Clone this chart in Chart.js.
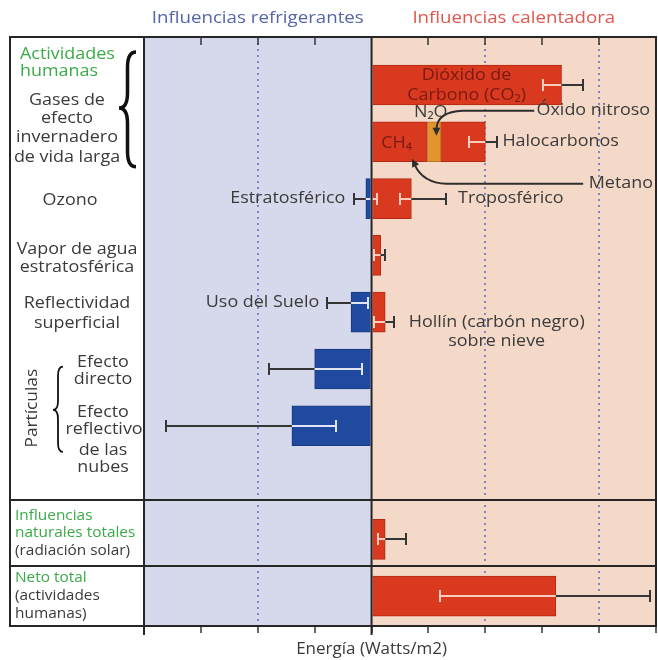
<!DOCTYPE html>
<html><head><meta charset="utf-8">
<script src="https://cdn.jsdelivr.net/npm/chart.js@4.4.0/dist/chart.umd.min.js"></script>
<style>html,body{margin:0;padding:0;background:#fff}#wrap{width:658px;height:660px}</style>
</head><body><div id="wrap"><canvas id="c" width="658" height="660"></canvas></div>
<script>
// ---------- DATA ----------
const categories = [
  'Dióxido de carbono',
  'Gases de efecto invernadero de vida larga',
  'Ozono',
  'Vapor de agua estratosférica',
  'Reflectividad superficial',
  'Partículas: efecto directo',
  'Partículas: efecto reflectivo de las nubes',
  '',
  'Influencias naturales totales (radiación solar)',
  'Neto total (actividades humanas)'
];
// principal bar of each row (CO2, CH4, troposférico, vapor, hollín, directo, nubes, -, solar, neto)
const mainValues  = [1.67, 0.49, 0.35, 0.08, 0.12, -0.50, -0.70, null, 0.12, 1.62];
const mainLow     = [1.51, 0.86, 0.25, 0.02, 0.02, -0.90, -1.81, null, 0.06, 0.60];
const mainHigh    = [1.86, 1.10, 0.65, 0.12, 0.20, -0.08, -0.31, null, 0.30, 2.45];
// second component (N2O, estratosférico, uso del suelo)
const secondValues = [null, 0.12, -0.05, null, -0.18, null, null, null, null, null];
const secondLow    = [null, null, -0.15, null, -0.39, null, null, null, null, null];
const secondHigh   = [null, null,  0.05, null, -0.03, null, null, null, null, null];
// third component (halocarbonos)
const thirdValues  = [null, 0.39, null, null, null, null, null, null, null, null];
const xTickValues = [-2, -1.5, -1, -0.5, 0, 0.5, 1, 1.5, 2, 2.5];
const dottedTicks = [-1, 1, 2];

// ---------- STYLE ----------
const FONT = '"Open Sans", "DejaVu Sans", sans-serif';
const RED = '#d8391f', RED_EDGE = '#b22a15';
const BLUE = '#1f4aa0', BLUE_EDGE = '#163a82';
const ORANGE = '#e0952f';
const DARK = '#353535';
const GREEN = '#3aab47';
const TXT = '#3a3a3a';
const errShift = { main: [0,0,0,0,10,0,0,0,0,0], second: [0,0,0,0,-9,0,0,0,0,0] };
const dividerRows = [7.31, 8.47];
const FRAME_LEFT = 10;

function pts(vals){ return vals.map((v,i)=> v==null ? null : {x:v, y:i}).filter(p=>p); }
function colorsFor(vals, pos, neg){ return vals.filter(v=>v!=null).map(v=> v>=0 ? pos : neg); }

// text with horizontal stretch
function T(ctx, text, x, y, opt){
  opt = opt || {};
  const size = opt.size || 16, sx = opt.sx || 1.12;
  ctx.save();
  ctx.font = size+'px '+FONT;
  ctx.fillStyle = opt.color || TXT;
  ctx.textBaseline = 'middle';
  ctx.textAlign = opt.align || 'center';
  ctx.translate(x, y);
  if (opt.rot) ctx.rotate(opt.rot);
  ctx.scale(sx, 1);
  ctx.fillText(text, 0, 0);
  ctx.restore();
}

const panels = {
  id:'panels',
  beforeDraw(chart){
    const {ctx, chartArea:a} = chart; const x0 = chart.scales.x.getPixelForValue(0);
    ctx.save();
    ctx.fillStyle='#fff'; ctx.fillRect(0,0,chart.width,chart.height);
    ctx.fillStyle='#d6d8eb'; ctx.fillRect(a.left,a.top,x0-a.left,a.bottom-a.top);
    ctx.fillStyle='#f4d9c8'; ctx.fillRect(x0,a.top,a.right-x0,a.bottom-a.top);
    ctx.restore();
  }
};

const errorBars = {
  id:'errorBars',
  afterDatasetsDraw(chart){
    const {ctx} = chart; const xs=chart.scales.x, ys=chart.scales.y;
    const sets = [[mainLow,mainHigh,errShift.main],[secondLow,secondHigh,errShift.second]];
    ctx.save(); ctx.lineWidth=2; ctx.lineCap='butt';
    categories.forEach((c,i)=>{
      const vals=[mainValues[i],secondValues[i],thirdValues[i]].filter(v=>v!=null);
      const pos=vals.filter(v=>v>0).reduce((s,v)=>s+v,0);
      const neg=vals.filter(v=>v<0).reduce((s,v)=>s+v,0);
      const colAt = v => (v>=neg-1e-9 && v<=pos+1e-9) ? (v<0 ? '#dfe5f5' : '#f8cdbd') : DARK;
      sets.forEach(([lo,hi,sh])=>{
        if(lo[i]==null) return;
        const y = Math.round(ys.getPixelForValue(i)+sh[i]);
        let bp=[lo[i],hi[i],neg,0,pos].filter(p=>p>=lo[i]&&p<=hi[i]).sort((a,b)=>a-b);
        bp=bp.filter((p,k)=>k===0||Math.abs(p-bp[k-1])>1e-9);
        for(let k=0;k<bp.length-1;k++){
          const m=(bp[k]+bp[k+1])/2;
          ctx.strokeStyle=colAt(m);
          ctx.beginPath(); ctx.moveTo(xs.getPixelForValue(bp[k]),y); ctx.lineTo(xs.getPixelForValue(bp[k+1]),y); ctx.stroke();
        }
        [lo[i],hi[i]].forEach(v=>{
          const px=Math.round(xs.getPixelForValue(v));
          ctx.strokeStyle=colAt(v);
          ctx.beginPath(); ctx.moveTo(px,y-6); ctx.lineTo(px,y+6); ctx.stroke();
        });
      });
    });
    ctx.restore();
  }
};

function brace(ctx, x, y1, y2, w, ym){
  const xm = x + w*0.5;
  ctx.beginPath();
  ctx.moveTo(x+w, y1);
  ctx.quadraticCurveTo(xm, y1, xm, y1+w*0.9);
  ctx.lineTo(xm, ym-w*0.9);
  ctx.quadraticCurveTo(xm, ym, x, ym);
  ctx.quadraticCurveTo(xm, ym, xm, ym+w*0.9);
  ctx.lineTo(xm, y2-w*0.9);
  ctx.quadraticCurveTo(xm, y2, x+w, y2);
  ctx.stroke();
}
function arrowHead(ctx, tx, ty, fx, fy, size){
  const ang=Math.atan2(ty-fy, tx-fx);
  ctx.beginPath();
  ctx.moveTo(tx,ty);
  ctx.lineTo(tx-size*Math.cos(ang-0.45), ty-size*Math.sin(ang-0.45));
  ctx.lineTo(tx-size*Math.cos(ang+0.45), ty-size*Math.sin(ang+0.45));
  ctx.closePath(); ctx.fill();
}

const frameAndText = {
  id:'frameAndText',
  afterDraw(chart){
    const {ctx, chartArea:a} = chart; const xs=chart.scales.x, ys=chart.scales.y;
    const X=v=>xs.getPixelForValue(v), Y=u=>ys.getPixelForValue(u);
    ctx.save();
    // frame
    ctx.strokeStyle='#262626'; ctx.lineWidth=2;
    ctx.strokeRect(FRAME_LEFT, a.top, a.right-FRAME_LEFT, a.bottom-a.top);
    [X(-2), X(0)].forEach(px=>{ ctx.beginPath(); ctx.moveTo(px,a.top); ctx.lineTo(px,a.bottom+9); ctx.stroke(); });
    dividerRows.forEach(u=>{ const py=Math.round(Y(u)); ctx.beginPath(); ctx.moveTo(FRAME_LEFT,py); ctx.lineTo(a.right,py); ctx.stroke(); });
    ctx.lineWidth=1.5; ctx.strokeStyle=DARK;
    xs.ticks.forEach(t=>{ if(t.value>-2 && t.value<2.5 && t.value!==0){ const px=Math.round(X(t.value)); ctx.beginPath(); ctx.moveTo(px,a.top); ctx.lineTo(px,a.top+8); ctx.stroke(); } });

    // headers and axis title
    T(ctx,'Influencias refrigerantes',(X(-2)+X(0))/2,a.top-19,{size:17,sx:1.1,color:'#5565a8'});
    T(ctx,'Influencias calentadora',(X(0)+a.right)/2,a.top-19,{size:17,sx:1.1,color:'#e2574c'});
    T(ctx,'Energía (Watts/m2)',X(0),a.bottom+23,{size:17,sx:1.0});

    // left column labels
    const L=(t,x,u,col,align,size,sx)=>T(ctx,t,x,Y(u),{color:col,align:align,size:size,sx:sx});
    L('Actividades',20,-0.53,GREEN,'left'); L('humanas',20,-0.23,GREEN,'left');
    L('Gases de',67,0.264); L('efecto',67,0.58); L('invernadero',67,0.915); L('de vida larga',67,1.268);
    L('Ozono',70,2.04);
    L('Vapor de agua',77,2.89); L('estratosférica',77,3.22);
    L('Reflectividad',77,3.84); L('superficial',77,4.19);
    L('Efecto',103,4.88); L('directo',103,5.19);
    L('Efecto',103,5.76); L('reflectivo',104,6.07); L('de las',103,6.43); L('nubes',103,6.74);
    L('Influencias',15,7.59,GREEN,'left',14,1.1); L('naturales totales',15,7.89,GREEN,'left',14,1.1); L('(radiación solar)',15,8.20,TXT,'left',14,1.1);
    L('Neto total',15,8.68,GREEN,'left',14,1.1); L('(actividades',15,9.0,TXT,'left',14,1.1); L('humanas)',15,9.31,TXT,'left',14,1.1);
    T(ctx,'Partículas',32,Y(5.69),{rot:-Math.PI/2,sx:1.08});
    // braces
    ctx.strokeStyle='#111'; ctx.lineWidth=3.5; brace(ctx,119,Y(-0.58),Y(1.44),17,Y(0.405));
    ctx.lineWidth=1.8; brace(ctx,53,Y(4.96),Y(6.46),10,Y(5.72));

    // annotations in plot
    const A=(t,v,u,dy,col,align)=>T(ctx,t,X(v),Y(u)+dy,{color:col,align:align});
    A('Dióxido de',0.835,0,-10,'#7a1a10'); A('Carbono (CO₂)',0.835,0,10,'#7a1a10');
    A('N₂O',0.52,1,-29,TXT); A('CH₄',0.22,1,2,'#7a1a10');
    A('Óxido nitroso',1.45,1,-31,TXT,'left');
    A('Halocarbonos',1.15,1,0,TXT,'left');
    T(ctx,'Metano',a.right-3,Y(1)+42,{align:'right'});
    A('Estratosférico',-0.23,2,0,TXT,'right'); A('Troposférico',0.76,2,0,TXT,'left');
    A('Uso del Suelo',-0.46,4,-10,TXT,'right');
    A('Hollín (carbón negro)',1.10,4,10,TXT); A('sobre nieve',1.10,4,29,TXT);

    // arrows
    ctx.strokeStyle='#2e2e2e'; ctx.fillStyle='#2e2e2e'; ctx.lineWidth=2;
    const y1=Y(1);
    ctx.beginPath(); ctx.moveTo(X(1.43),y1-31); ctx.lineTo(X(0.8),y1-31);
    ctx.quadraticCurveTo(X(0.58),y1-30,X(0.57),y1-13); ctx.stroke();
    arrowHead(ctx,X(0.57),y1-6,X(0.57),y1-15,9);
    ctx.beginPath(); ctx.moveTo(X(1.86),y1+42); ctx.lineTo(X(0.66),y1+42);
    ctx.quadraticCurveTo(X(0.45),y1+41,X(0.38),y1+23); ctx.stroke();
    arrowHead(ctx,X(0.355),y1+17,X(0.40),y1+27,9);
    ctx.restore();
  }
};

new Chart(document.getElementById('c'), {
  type:'bar',
  data:{
    datasets:[
      { label:'Principal', data:pts(mainValues), backgroundColor:colorsFor(mainValues,RED,BLUE), borderColor:colorsFor(mainValues,RED_EDGE,BLUE_EDGE), borderWidth:1, barThickness:40 },
      { label:'Componente 2', data:pts(secondValues), backgroundColor:colorsFor(secondValues,ORANGE,BLUE), borderColor:colorsFor(secondValues,'#b87420',BLUE_EDGE), borderWidth:1, barThickness:40 },
      { label:'Halocarbonos', data:pts(thirdValues), backgroundColor:RED, borderColor:RED_EDGE, borderWidth:1, barThickness:40 }
    ]
  },
  options:{
    indexAxis:'y', responsive:false, animation:false, devicePixelRatio:1,
    layout:{ padding:{ left:144, top:37, right:2, bottom:27 } },
    plugins:{ legend:{display:false}, tooltip:{enabled:false} },
    scales:{
      x:{ type:'linear', min:-2, max:2.5, stacked:true,
          afterBuildTicks(s){ s.ticks = xTickValues.map(v=>({value:v})); },
          ticks:{ display:false },
          grid:{ drawTicks:true, tickLength:7, tickWidth:1.5, tickColor:DARK, lineWidth:2,
                 color: c => (c.tick && dottedTicks.includes(c.tick.value)) ? '#7f88c3' : 'rgba(0,0,0,0)' },
          border:{ display:false, dash:[2,4] },
          title:{ display:false } },
      y:{ type:'linear', reverse:true, offset:false, min:-0.845, max:9.525, stacked:true, display:false }
    }
  },
  plugins:[panels, errorBars, frameAndText]
});
</script>
</body></html>
